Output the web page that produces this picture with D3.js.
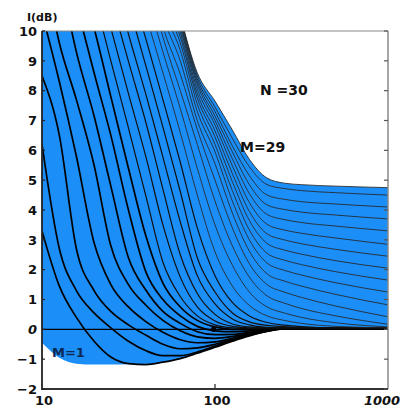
<!DOCTYPE html>
<html>
<head>
<meta charset="utf-8">
<script src="https://cdn.jsdelivr.net/npm/d3@7"></script>
<style>
  body { margin: 0; background: #fff; }
  svg text { font-family: "DejaVu Sans", sans-serif; fill: #111; }
</style>
</head>
<body>
<div id="chart"></div>
<script>
// frequency grid the curves were read at
const freqs = [10, 12.6, 15.8, 20, 25, 31.6, 40, 50, 63, 79, 100, 126, 158, 200, 251, 316, 500, 1000];
const yTicks = [-2, -1, 0, 1, 2, 3, 4, 5, 6, 7, 8, 9, 10];
const xTicks = [10, 100, 1000];

// bottom edge of the shaded band
const lowerEdge = [-0.45, -0.95, -1.15, -1.18, -1.18, -1.17, -1.18, -1.1, -0.98, -0.8, -0.6, -0.4, -0.22, -0.07, 0.02, 0.04, 0.04, 0.04];

// I(dB) for M = 1 .. 29 (null = far above the frame)
const m1 = [3.3, 1.45, 0.4, -0.4, -0.93, -1.15, -1.18, -1.1, -0.98, -0.8, -0.6, -0.4, -0.22, -0.07, 0.02, 0.05, 0.05, 0.05];
const m2 = [6.2, 2.7, 1.3, 0.55, 0.05, -0.4, -0.72, -0.88, -0.88, -0.76, -0.56, -0.37, -0.2, -0.06, 0.02, 0.05, 0.05, 0.05];
const m3 = [8.5, 6.5, 2.7, 1.3, 0.6, 0.15, -0.2, -0.5, -0.65, -0.62, -0.5, -0.34, -0.18, -0.05, 0.03, 0.05, 0.05, 0.05];
const m4 = [10.6, 8.3, 5.8, 2.9, 1.5, 0.75, 0.25, -0.1, -0.35, -0.45, -0.42, -0.3, -0.16, -0.04, 0.03, 0.05, 0.05, 0.05];
const m5 = [12.5, 9.6, 7.7, 5.5, 2.8, 1.5, 0.8, 0.3, -0.05, -0.25, -0.3, -0.24, -0.13, -0.03, 0.03, 0.05, 0.05, 0.05];
const m6 = [null, 12.0, 9.3, 7.15, 4.8, 2.4, 1.3, 0.6, 0.2, -0.08, -0.18, -0.17, -0.1, -0.02, 0.04, 0.05, 0.05, 0.05];
const m7 = [null, null, 10.9, 8.6, 6.5, 4.0, 1.9, 1.0, 0.45, 0.1, -0.05, -0.08, -0.05, 0.0, 0.04, 0.05, 0.05, 0.05];
const m8 = [null, null, 12.2, 10.1, 7.8, 5.4, 3.1, 1.55, 0.75, 0.3, 0.08, 0.0, 0.0, 0.03, 0.05, 0.05, 0.05, 0.05];
const m9 = [null, null, null, 11.2, 9.0, 6.75, 4.43, 2.25, 1.1, 0.45, 0.15, 0.05, 0.03, 0.04, 0.05, 0.05, 0.05, 0.05];
const m10 = [null, null, null, 12.3, 10.1, 7.9, 5.75, 3.5, 1.75, 0.75, 0.28, 0.1, 0.05, 0.05, 0.05, 0.05, 0.05, 0.05];
const m11 = [null, null, null, null, 11.1, 8.98, 6.9, 4.7, 2.5, 1.2, 0.5, 0.18, 0.08, 0.05, 0.05, 0.05, 0.05, 0.05];
const m12 = [null, null, null, null, 12.1, 9.9, 7.84, 5.77, 3.6, 1.8, 0.85, 0.35, 0.15, 0.07, 0.05, 0.05, 0.05, 0.05];
const m13 = [null, null, null, null, null, 10.9, 8.8, 6.78, 4.62, 2.4, 1.25, 0.55, 0.25, 0.13, 0.09, 0.06, 0.05, 0.05];
const m14 = [null, null, null, null, null, 11.7, 9.7, 7.7, 5.6, 3.4, 1.8, 0.9, 0.45, 0.23, 0.14, 0.09, 0.05, 0.05];
const m15 = [null, null, null, null, null, 12.6, 10.5, 8.6, 6.6, 4.5, 2.6, 1.45, 0.8, 0.45, 0.3, 0.2, 0.1, 0.05];
const m16 = [null, null, null, null, null, null, 11.2, 9.3, 7.4, 5.4, 3.5, 2.15, 1.25, 0.75, 0.55, 0.4, 0.22, 0.08];
const m17 = [null, null, null, null, null, null, 11.9, 9.8, 8.0, 6.2, 4.3, 2.8, 1.75, 1.12, 0.88, 0.7, 0.45, 0.17];
const m18 = [null, null, null, null, null, null, 12.4, 10.15, 8.55, 6.7, 5.0, 3.4, 2.2, 1.5, 1.25, 1.07, 0.78, 0.42];
const m19 = [null, null, null, null, null, null, 12.8, 10.5, 9.0, 7.0, 5.55, 3.9, 2.62, 1.86, 1.62, 1.45, 1.17, 0.82];
const m20 = [null, null, null, null, null, null, 13.1, 10.8, 9.35, 7.3, 5.95, 4.3, 3.0, 2.22, 1.98, 1.82, 1.56, 1.25];
const m21 = [null, null, null, null, null, null, 13.4, 11.1, 9.6, 7.55, 6.2, 4.65, 3.33, 2.55, 2.32, 2.17, 1.93, 1.65];
const m22 = [null, null, null, null, null, null, 13.6, 11.35, 9.8, 7.75, 6.45, 4.95, 3.65, 2.88, 2.66, 2.52, 2.3, 2.05];
const m23 = [null, null, null, null, null, null, 13.8, 11.6, 9.95, 7.9, 6.65, 5.22, 3.95, 3.2, 3.0, 2.87, 2.68, 2.45];
const m24 = [null, null, null, null, null, null, 14.0, 11.8, 10.1, 8.05, 6.85, 5.48, 4.25, 3.52, 3.33, 3.22, 3.06, 2.85];
const m25 = [null, null, null, null, null, null, 14.2, 12.0, 10.2, 8.2, 7.0, 5.72, 4.55, 3.85, 3.68, 3.58, 3.46, 3.3];
const m26 = [null, null, null, null, null, null, 14.4, 12.2, 10.3, 8.3, 7.15, 5.95, 4.85, 4.17, 4.02, 3.93, 3.83, 3.7];
const m27 = [null, null, null, null, null, null, 14.6, 12.4, 10.4, 8.4, 7.3, 6.15, 5.15, 4.5, 4.36, 4.28, 4.2, 4.1];
const m28 = [null, null, null, null, null, null, 14.8, 12.6, 10.45, 8.5, 7.45, 6.4, 5.45, 4.85, 4.72, 4.65, 4.58, 4.5];
const m29 = [null, null, null, null, null, null, 15.0, 12.8, 10.5, 8.6, 7.65, 6.68, 5.7, 5.07, 4.9, 4.85, 4.8, 4.75];

const series = [m1, m2, m3, m4, m5, m6, m7, m8, m9, m10, m11, m12, m13, m14, m15,
                m16, m17, m18, m19, m20, m21, m22, m23, m24, m25, m26, m27, m28, m29];

const w = 400, h = 408;
const plotLeft = 42, plotRight = 388, plotTop = 31, plotBottom = 389;

const x = d3.scaleLog().domain([10, 1000]).range([plotLeft, plotRight]);
const y = d3.scaleLinear().domain([-2, 10]).range([plotBottom, plotTop]);

const svg = d3.select('#chart').append('svg')
    .attr('width', w)
    .attr('height', h);

svg.append('clipPath').attr('id', 'plot')
  .append('rect')
    .attr('x', plotLeft).attr('y', plotTop)
    .attr('width', plotRight - plotLeft).attr('height', plotBottom - plotTop);

const plot = svg.append('g').attr('clip-path', 'url(#plot)');

// shaded band between lowest and highest curve
const band = freqs.map((f, i) => ({f, lo: lowerEdge[i], hi: m29[i] == null ? 16 : m29[i]}));
plot.append('path')
    .datum(band)
    .attr('fill', '#1c8ef8')
    .attr('d', d3.area()
        .x(d => x(d.f))
        .y0(d => y(d.lo))
        .y1(d => y(d.hi))
        .curve(d3.curveMonotoneX));

const line = d3.line()
    .defined(d => d.v != null)
    .x(d => x(d.f))
    .y(d => y(d.v))
    .curve(d3.curveMonotoneX);

plot.selectAll('path.curve')
    .data(series)
    .enter()
    .append('path')
    .attr('class', 'curve')
    .attr('fill', 'none')
    .attr('stroke', (d, i) => i < 8 ? '#000' : i < 14 ? '#111' : '#262626')
    .attr('stroke-width', (d, i) => i < 8 ? 1.7 : i < 14 ? 1.2 : 0.85)
    .attr('d', vals => line(vals.map((v, i) => ({f: freqs[i], v}))));

// zero line and the dot on it
plot.append('line')
    .attr('x1', plotLeft).attr('x2', plotRight)
    .attr('y1', y(0)).attr('y2', y(0))
    .attr('stroke', '#000').attr('stroke-width', 1.3);
plot.append('circle')
    .attr('cx', x(98)).attr('cy', y(0)).attr('r', 2.6)
    .attr('fill', '#000');

// frame
svg.append('line').attr('x1', plotLeft).attr('x2', plotRight).attr('y1', plotTop).attr('y2', plotTop)
    .attr('stroke', '#8a8a8a').attr('stroke-width', 1.2);
svg.append('line').attr('x1', plotRight).attr('x2', plotRight).attr('y1', plotTop).attr('y2', plotBottom)
    .attr('stroke', '#8a8a8a').attr('stroke-width', 1.5);
svg.append('line').attr('x1', plotLeft).attr('x2', plotLeft).attr('y1', plotTop).attr('y2', plotBottom + 1)
    .attr('stroke', '#222').attr('stroke-width', 1.8);
svg.append('line').attr('x1', plotLeft - 1).attr('x2', plotRight).attr('y1', plotBottom).attr('y2', plotBottom)
    .attr('stroke', '#333').attr('stroke-width', 1.8);

// ticks
svg.selectAll('line.rt').data(yTicks).enter().append('line')
    .attr('x1', plotRight - 4).attr('x2', plotRight)
    .attr('y1', d => y(d)).attr('y2', d => y(d))
    .attr('stroke', '#555').attr('stroke-width', 1.2);
svg.selectAll('line.lt').data(yTicks).enter().append('line')
    .attr('x1', plotLeft).attr('x2', plotLeft + 3)
    .attr('y1', d => y(d)).attr('y2', d => y(d))
    .attr('stroke', '#222').attr('stroke-width', 1.2);
svg.append('line')
    .attr('x1', x(100)).attr('x2', x(100))
    .attr('y1', plotBottom).attr('y2', plotBottom - 5)
    .attr('stroke', '#333').attr('stroke-width', 1.3);

// tick labels
svg.selectAll('text.yl').data(yTicks).enter().append('text')
    .attr('x', 37)
    .attr('y', d => y(d))
    .attr('dy', '0.36em')
    .attr('text-anchor', 'end')
    .attr('font-size', 13)
    .attr('font-weight', 'bold')
    .attr('font-style', d => d === 0 ? 'italic' : 'normal')
    .text(d => d < 0 ? '\u2212' + (-d) : d);

svg.selectAll('text.xl').data(xTicks).enter().append('text')
    .attr('x', d => d === 1000 ? x(d) - 6 : x(d) + 2)
    .attr('y', 405)
    .attr('text-anchor', 'middle')
    .attr('font-size', 13)
    .attr('font-weight', 'bold')
    .attr('font-style', d => d === 1000 ? 'italic' : 'normal')
    .text(d => d);

// annotations
svg.append('text').attr('x', 27).attr('y', 21)
    .attr('font-size', 11).attr('font-weight', 'bold').text('I(dB)');
svg.append('text').attr('x', 260).attr('y', 95)
    .attr('font-size', 14).attr('font-weight', 'bold').text('N =30');
svg.append('text').attr('x', 240).attr('y', 152)
    .attr('font-size', 14).attr('font-weight', 'bold').text('M=29');
svg.append('text').attr('x', 52).attr('y', 357)
    .attr('font-size', 13).attr('font-weight', 'bold')
    .style('fill', '#0b2a55').text('M=1');
</script>
</body>
</html>
